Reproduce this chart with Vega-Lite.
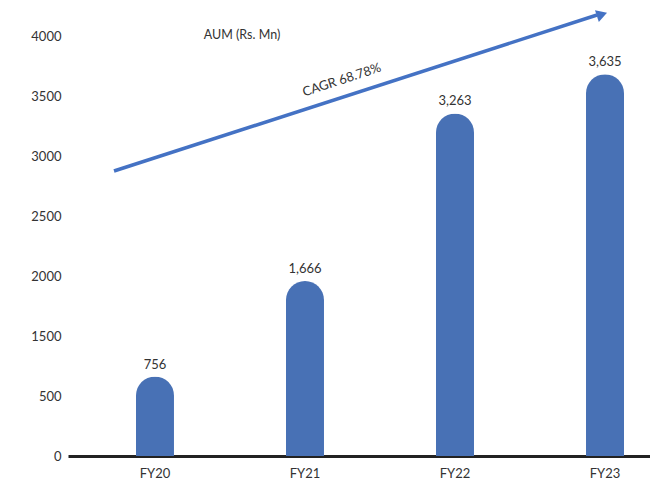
{
  "$schema": "https://vega.github.io/schema/vega-lite/v6.json",
  "autosize": "none",
  "width": 582,
  "height": 420,
  "padding": {"left": 68, "top": 36, "right": 0, "bottom": 27},
  "background": "white",
  "config": {
    "view": {"stroke": null},
    "font": "Lato",
    "text": {"font": "Lato"}
  },
  "datasets": {
    "aum": [
      {"FY": "FY20", "AUM": 756},
      {"FY": "FY21", "AUM": 1666},
      {"FY": "FY22", "AUM": 3263},
      {"FY": "FY23", "AUM": 3635}
    ],
    "arrow": [
      {"from": "FY20", "to": "FY23", "start": 2714, "end": 4200}
    ],
    "head": [
      {"FY": "FY23", "y": 4205}
    ],
    "cagr": [
      {"FY": "FY21", "y": 3581, "label": "CAGR 68.78%"}
    ],
    "caption": [
      {"FY": "FY20", "y": 4010, "label": "AUM (Rs. Mn)"}
    ]
  },
  "layer": [
    {
      "data": {"name": "aum"},
      "mark": {"type": "bar", "color": "#4871B5", "cornerRadiusTopLeft": 19, "cornerRadiusTopRight": 19},
      "encoding": {
        "x": {
          "field": "FY", "type": "nominal", "sort": null,
          "scale": {"domain": ["FY20", "FY21", "FY22", "FY23"], "paddingInner": 0.7467, "paddingOuter": 0.3133, "align": 0.7234},
          "axis": {"title": null, "labelAngle": 0, "ticks": false, "domainColor": "#222222", "domainWidth": 3, "labelPadding": 11, "labelFontSize": 13, "labelColor": "#333333", "labelFont": "Lato"}
        },
        "y": {
          "field": "AUM", "type": "quantitative",
          "scale": {"domain": [0, 4000], "nice": false},
          "axis": {
            "title": null, "grid": false, "ticks": false, "domain": false,
            "values": [0, 571.4286, 1142.8571, 1714.2857, 2285.7143, 2857.1429, 3428.5714, 4000],
            "labelExpr": "['0','500','1500','2000','2500','3000','3500','4000'][round(datum.value/571.4286)]",
            "labelPadding": 7, "labelFontSize": 13, "labelColor": "#333333", "labelFont": "Lato"
          }
        }
      }
    },
    {
      "data": {"name": "aum"},
      "mark": {"type": "text", "baseline": "bottom", "dy": -5, "fontSize": 13, "color": "#333333"},
      "encoding": {
        "x": {"field": "FY", "type": "nominal"},
        "y": {"field": "AUM", "type": "quantitative"},
        "text": {"field": "AUM", "type": "quantitative", "format": ","}
      }
    },
    {
      "data": {"name": "arrow"},
      "mark": {"type": "rule", "color": "#4472C4", "strokeWidth": 3.5},
      "encoding": {
        "x": {"field": "from", "type": "nominal", "bandPosition": -0.579},
        "x2": {"field": "to", "bandPosition": 0.29},
        "y": {"field": "start", "type": "quantitative"},
        "y2": {"field": "end"}
      }
    },
    {
      "data": {"name": "head"},
      "mark": {"type": "point", "shape": "triangle-right", "filled": true, "color": "#4472C4", "size": 150, "angle": -18, "opacity": 1},
      "encoding": {
        "x": {"field": "FY", "type": "nominal", "bandPosition": 0.42},
        "y": {"field": "y", "type": "quantitative"}
      }
    },
    {
      "data": {"name": "cagr"},
      "mark": {"type": "text", "angle": -18, "fontSize": 13, "color": "#333333", "align": "center", "baseline": "middle"},
      "encoding": {
        "x": {"field": "FY", "type": "nominal", "bandPosition": 1.47},
        "y": {"field": "y", "type": "quantitative"},
        "text": {"field": "label"}
      }
    },
    {
      "data": {"name": "caption"},
      "mark": {"type": "text", "fontSize": 12.5, "color": "#333333", "align": "center", "baseline": "middle"},
      "encoding": {
        "x": {"field": "FY", "type": "nominal", "bandPosition": 2.79},
        "y": {"field": "y", "type": "quantitative"},
        "text": {"field": "label"}
      }
    }
  ]
}
